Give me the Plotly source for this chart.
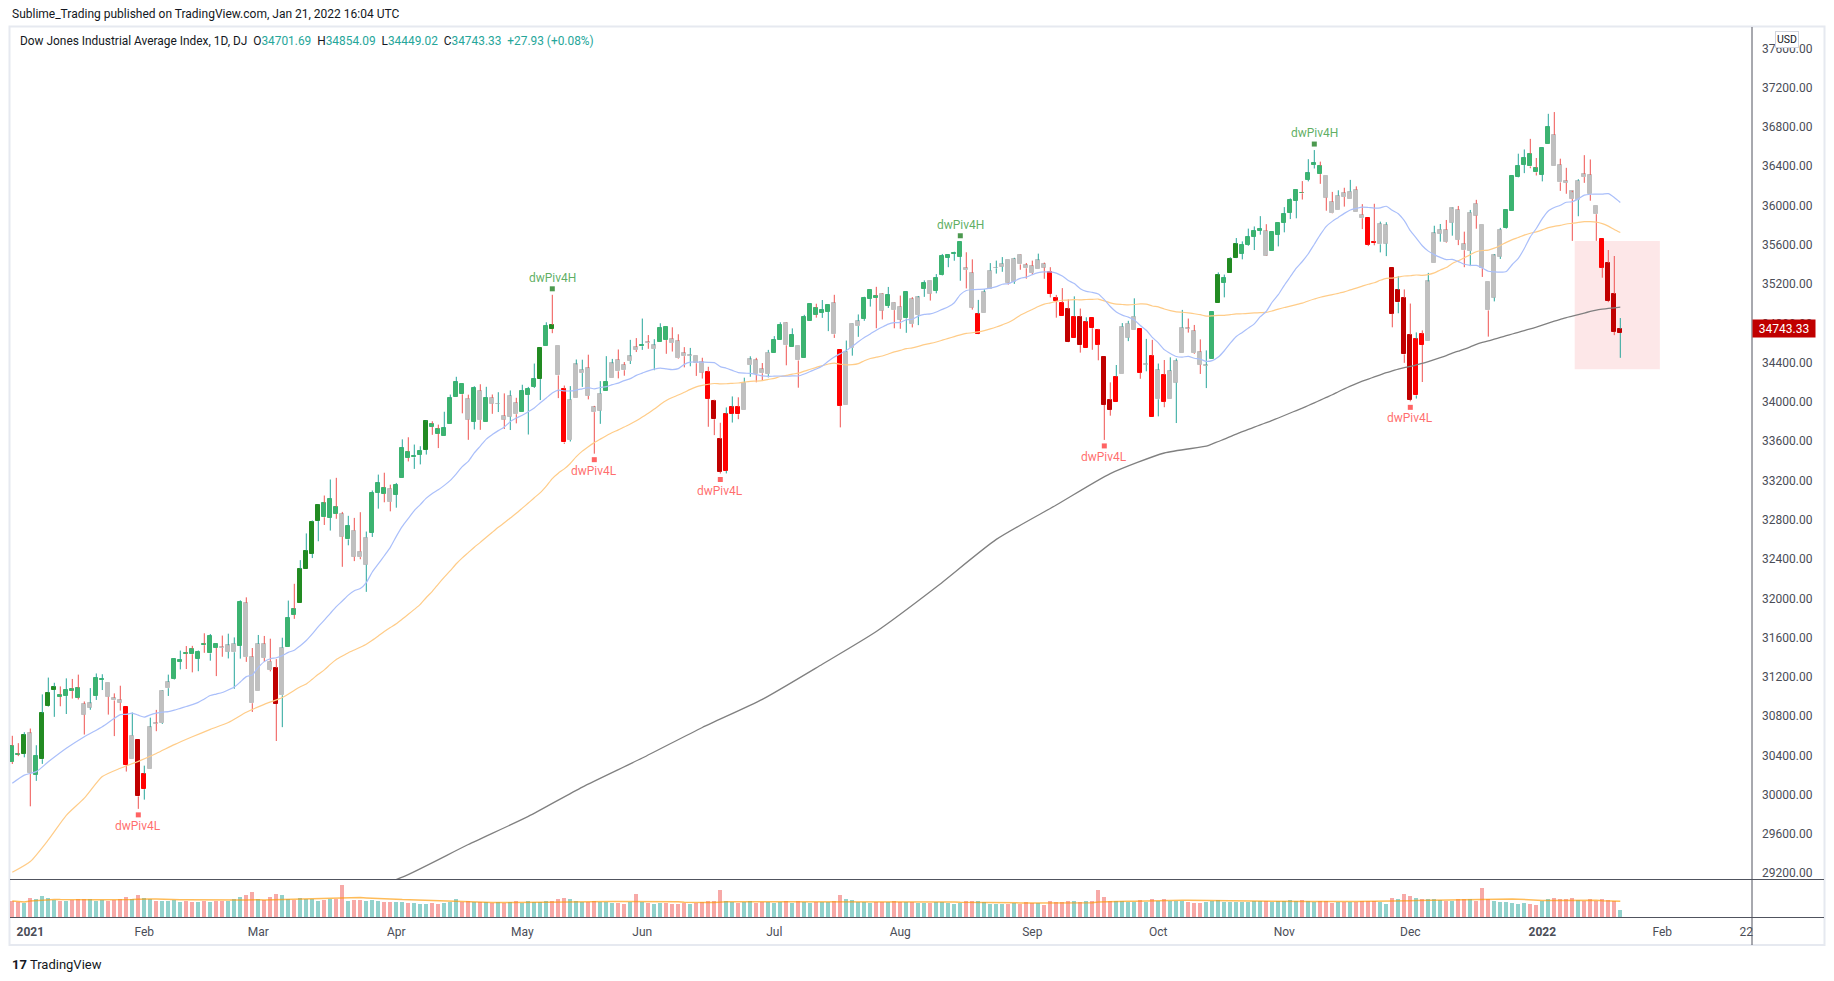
import plotly.graph_objects as go
import pandas as pd

W, H = 1834, 981


def px(x):
    return x / W


def py(y):
    return 1 - y / H


# ---------------- data (bar index 0 = 29 Dec 2020 ... 268 = 21 Jan 2022) ----------------
opens = [30496, 30415, 30417, 30627, 30205, 30362, 30904, 31069, 31016, 31005,
         31080, 31085, 30924, 30887, 31005, 31168, 31137, 30985, 30965, 30894,
         30364, 30558, 30056, 30262, 30731, 30731, 31085, 31176, 31354, 31448,
         31486, 31386, 31533, 31439, 31530, 31503, 31455, 31451, 31514, 31952,
         31402, 31056, 31534, 31355, 31290, 31013, 31508, 31891, 31948, 32302,
         32454, 32790, 32968, 32821, 32930, 32859, 32600, 32689, 32476, 32342,
         32668, 33075, 33127, 33116, 33055, 33222, 33493, 33436, 33460, 33513,
         33775, 33725, 33653, 33775, 34050, 34182, 34033, 33796, 34111, 33796,
         34040, 33979, 33857, 33850, 33989, 33898, 34070, 34152, 34233, 34570,
         34784, 34570, 34132, 33613, 34040, 34294, 34345, 33948, 33911, 34115,
         34243, 34427, 34376, 34417, 34559, 34567, 34610, 34539, 34610, 34763,
         34640, 34620, 34498, 34471, 34468, 34404, 34305, 34010, 33623, 33300,
         33880, 33948, 33917, 34376, 34426, 34334, 34283, 34498, 34630, 34804,
         34559, 34569, 34447, 34828, 34957, 34909, 34916, 35008, 34528, 33969,
         34549, 34773, 34844, 35048, 35079, 35099, 34977, 35008, 34967, 34851,
         35048, 34885, 35150, 35231, 35130, 35293, 35469, 35510, 35476, 35364,
         35313, 34692, 34905, 35150, 35361, 35377, 35446, 35225, 35497, 35395,
         35384, 35351, 35405, 35326, 35058, 35010, 34945, 34654, 34865, 34552,
         34855, 34733, 34458, 34020, 34002, 34288, 34654, 34736, 34743, 34380,
         34467, 34027, 34276, 34027, 34196, 34500, 34753, 34722, 34508, 34369,
         34434, 35010, 35214, 35316, 35469, 35510, 35598, 35683, 35741, 35740,
         35540, 35703, 35823, 35925, 36049, 36128, 36263, 36413, 36403, 36301,
         36036, 35955, 36128, 36070, 36158, 35904, 35873, 35629, 35605, 35612,
         35365, 35015, 35058, 34682, 34067, 34690, 34625, 35418, 35713, 35751,
         35825, 35955, 35608, 35537, 36018, 35800, 35221, 35062, 35479, 35775,
         35948, 36294, 36416, 36525, 36382, 36315, 36630, 36718, 36413, 36250,
         36150, 36057, 36320, 36311, 35995, 35659, 35415, 35099, 34701.69]
highs = [30600, 30525, 30637, 30674, 30504, 31022, 31193, 31140, 31103, 31185,
         31179, 31223, 30950, 31086, 31235, 31227, 31137, 31032, 31110, 30894,
         30837, 30558, 30296, 30785, 30864, 31061, 31223, 31391, 31468, 31514,
         31516, 31469, 31644, 31637, 31530, 31621, 31640, 31602, 31980, 32010,
         31494, 31627, 31617, 31589, 31381, 31599, 31977, 32148, 32389, 32661,
         32793, 32953, 33047, 33210, 33227, 32880, 32840, 32819, 32877, 32680,
         33098, 33260, 33279, 33157, 33175, 33619, 33640, 33566, 33549, 33810,
         33803, 33769, 33900, 34075, 34256, 34182, 34074, 34160, 34180, 34154,
         34076, 34099, 34087, 34117, 34042, 34175, 34153, 34391, 34550, 34811,
         35091, 34570, 34167, 34161, 34432, 34430, 34481, 33960, 34212, 34466,
         34438, 34534, 34406, 34632, 34650, 34849, 34681, 34639, 34801, 34763,
         34760, 34689, 34558, 34550, 34468, 34450, 34358, 34023, 33788, 33944,
         34056, 34047, 34247, 34465, 34449, 34396, 34530, 34670, 34811, 34808,
         34749, 34569, 34887, 35006, 35000, 35038, 34984, 35091, 34528, 34625,
         34800, 34891, 35071, 35144, 35172, 35106, 35171, 35011, 35083, 35130,
         35067, 35079, 35238, 35231, 35302, 35507, 35504, 35530, 35631, 35524,
         35452, 35039, 35148, 35414, 35439, 35475, 35446, 35468, 35500, 35415,
         35439, 35510, 35419, 35372, 35090, 35159, 35045, 35075, 34951, 34862,
         34855, 34744, 34458, 34199, 34376, 34803, 34826, 35055, 34743, 34642,
         34632, 34391, 34427, 34454, 34442, 34937, 34849, 34784, 34637, 34525,
         34919, 35319, 35297, 35474, 35669, 35635, 35765, 35787, 35892, 35810,
         35734, 35821, 35984, 36073, 36161, 36249, 36472, 36565, 36447, 36301,
         36139, 36155, 36181, 36261, 36195, 36014, 35873, 36018, 35836, 35830,
         35365, 35281, 35146, 35002, 34708, 34729, 35314, 35794, 35812, 35853,
         35978, 35996, 35734, 35955, 36058, 35800, 35221, 35505, 35772, 35958,
         36307, 36528, 36571, 36679, 36484, 36595, 36934, 36952, 36477, 36384,
         36136, 36268, 36513, 36469, 35995, 35659, 35547, 35486, 34854.09]
lows = [30313, 30393, 30381, 29882, 30141, 30314, 30897, 30793, 30901, 30822,
        30979, 30970, 30613, 30865, 30965, 31066, 30816, 30597, 30857, 30236,
        30364, 29856, 29950, 30262, 30647, 30721, 31006, 31171, 31276, 31280,
        31246, 31258, 31445, 31365, 31208, 31405, 31388, 31079, 31386, 31353,
        30843, 31056, 31352, 31256, 30547, 30688, 31507, 31791, 31948, 32302,
        32410, 32581, 32747, 32690, 32810, 32321, 32540, 32379, 32398, 32066,
        32625, 32913, 32978, 32886, 32923, 33222, 33394, 33318, 33364, 33464,
        33665, 33530, 33653, 33775, 34050, 33884, 33614, 33720, 33716, 33796,
        33879, 33897, 33724, 33714, 33782, 33898, 33668, 34142, 34019, 34570,
        34700, 34039, 33572, 33597, 34040, 34153, 34026, 33473, 33777, 34115,
        34243, 34240, 34267, 34386, 34508, 34530, 34541, 34323, 34610, 34490,
        34513, 34441, 34352, 34363, 34265, 34238, 33747, 33662, 33271, 33272,
        33790, 33824, 33917, 34256, 34200, 34218, 34250, 34498, 34630, 34373,
        34559, 34145, 34447, 34828, 34858, 34856, 34721, 34652, 33741, 33969,
        34471, 34663, 34826, 34971, 34750, 34840, 34957, 34750, 34745, 34704,
        34759, 34782, 35070, 35032, 35106, 35288, 35372, 35438, 35234, 35156,
        34940, 34690, 34905, 35150, 35307, 35325, 35195, 35202, 35346, 35255,
        35300, 35351, 35254, 35064, 34858, 34879, 34606, 34654, 34502, 34552,
        34531, 34424, 33613, 33860, 34002, 34288, 34619, 34736, 34236, 34312,
        33844, 33853, 33946, 34027, 33785, 34500, 34706, 34488, 34285, 34141,
        34434, 35010, 35065, 35316, 35464, 35452, 35590, 35547, 35703, 35487,
        35540, 35584, 35727, 35862, 35870, 36061, 36246, 36377, 36221, 35947,
        35918, 35955, 35989, 36070, 35930, 35760, 35587, 35595, 35523, 35485,
        34760, 34903, 34398, 34006, 34034, 34203, 34625, 35418, 35632, 35622,
        35693, 35597, 35372, 35383, 35764, 35273, 34665, 35024, 35456, 35765,
        35948, 36287, 36330, 36380, 36306, 36246, 36630, 36407, 36149, 36120,
        35640, 35891, 36231, 36049, 35640, 35265, 35016, 34680, 34449.02]
closes = [30335, 30409, 30606, 30223, 30392, 30829, 31041, 31098, 30998, 31069,
          31061, 30990, 30814, 30931, 31188, 31176, 30997, 30960, 30937, 30303,
          30603, 29983, 30212, 30688, 30724, 31056, 31148, 31386, 31375, 31438,
          31431, 31458, 31523, 31613, 31494, 31494, 31522, 31537, 31962, 31402,
          30932, 31535, 31392, 31270, 30924, 31496, 31802, 31833, 32297, 32485,
          32779, 32950, 32826, 33015, 32862, 32628, 32732, 32423, 32420, 32619,
          33072, 33171, 33067, 32982, 33153, 33527, 33430, 33446, 33503, 33801,
          33746, 33677, 33730, 34036, 34200, 34078, 33821, 34137, 33815, 34043,
          33982, 33984, 33820, 34060, 33875, 34113, 34133, 34230, 34548, 34778,
          34743, 34270, 33587, 34022, 34382, 34327, 34061, 33896, 34084, 34208,
          34394, 34312, 34323, 34465, 34529, 34575, 34600, 34577, 34756, 34630,
          34600, 34447, 34466, 34480, 34394, 34299, 34033, 33823, 33290, 33876,
          33945, 33874, 34196, 34433, 34283, 34292, 34503, 34633, 34786, 34577,
          34681, 34422, 34870, 34996, 34889, 34933, 34987, 34688, 33962, 34512,
          34798, 34823, 35062, 35144, 35059, 34931, 35085, 34935, 34838, 35117,
          34793, 35065, 35209, 35102, 35265, 35485, 35500, 35516, 35626, 35343,
          34961, 34894, 35120, 35336, 35367, 35406, 35214, 35456, 35400, 35361,
          35313, 35444, 35369, 35100, 35031, 34879, 34608, 34870, 34578, 34814,
          34751, 34584, 33970, 33919, 34258, 34765, 34798, 34870, 34299, 34390,
          33844, 34326, 34003, 34315, 34417, 34755, 34746, 34496, 34378, 34377,
          34913, 35295, 35259, 35458, 35610, 35603, 35677, 35741, 35757, 35491,
          35731, 35820, 35913, 36053, 36158, 36124, 36328, 36432, 36320, 36080,
          35921, 36100, 36087, 36142, 35931, 35871, 35602, 35619, 35814, 35804,
          34899, 35140, 34484, 34022, 34640, 34580, 35227, 35719, 35754, 35630,
          35971, 35650, 35545, 35927, 35898, 35365, 34932, 35493, 35754, 35951,
          36302, 36398, 36488, 36398, 36338, 36585, 36799, 36407, 36236, 36231,
          36068, 36252, 36290, 36113, 35912, 35368, 35029, 34715, 34743.33]
# body colour code per bar (groups of 5 bars): G green, D dark green, S silver, R red, K dark red
body_groups = [
    "GGDSG", "DDDGG", "GGSSG", "GSSSR", "SKRSS", "SSGGG", "GGGGG", "SSSGS", "SSSSK", "SGGDD",
    "DDGGG",                                                             # 0-54
    "SGSSS", "GGGSG", "GGGGD", "GGGGG", "GSGSG", "SSSSS", "GGGDG", "DSRSS", "SSSSG", "SSSSS",
    "GSSGG",                                                             # 55-109
    "SSSSS", "SRKKR", "RRSSS", "SSGGS", "GSGGG", "GGSRS", "SSGGG", "SGSSG", "SSGSG", "GGGGS",
    "SRS",                                                               # 110-162
    "SSSSS", "SSSSS", "RRRKR", "KRRRK", "KRSSS", "RSRSR", "SSSSS", "SSGDG", "DDGGG", "GSGGG",
    "GGGGG", "GS",                                                       # 163-219
    "SSSSS", "SRRSS", "KKKKR", "RSSSS", "SSSSS", "SSSSG", "GGGGG", "GGSSS", "SSSSS", "RKKK",  # 220-268
]
volumes = [330, 300, 290, 400, 380, 440, 400, 350, 330, 330,
           340, 360, 370, 360, 330, 350, 330, 350, 360, 420,
           380, 460, 400, 360, 330, 320, 330, 340, 310, 320,
           300, 300, 330, 310, 330, 320, 330, 380, 420, 460,
           520, 370, 350, 420, 480, 450, 380, 340, 390, 360,
           360, 330, 350, 360, 380, 650, 330, 350, 340, 330,
           350, 320, 310, 300, 310, 300, 290, 280, 270, 260,
           280, 270, 290, 310, 360, 300, 320, 300, 310, 300,
           280, 300, 290, 310, 330, 290, 330, 300, 310, 320,
           320, 380, 400, 360, 330, 300, 310, 330, 300, 310,
           280, 290, 270, 300, 480, 310, 280, 270, 290, 280,
           270, 260, 280, 270, 290, 300, 330, 330, 560, 330,
           300, 290, 300, 320, 290, 310, 300, 290, 300, 320,
           290, 330, 300, 290, 300, 310, 300, 330, 450, 380,
           340, 300, 300, 280, 300, 310, 300, 320, 300, 300,
           300, 290, 280, 290, 300, 300, 280, 270, 290, 330,
           320, 330, 300, 270, 260, 270, 270, 280, 270, 300,
           290, 280, 250, 320, 300, 300, 330, 320, 300, 330,
           320, 560, 420, 330, 330, 330, 300, 300, 350, 310,
           380, 330, 370, 320, 330, 320, 300, 290, 290, 310,
           330, 340, 300, 300, 310, 300, 310, 320, 330, 330,
           300, 330, 320, 340, 320, 340, 330, 310, 330, 320,
           290, 300, 300, 310, 300, 330, 330, 320, 300, 260,
           400, 380, 480, 440, 400, 380, 360, 360, 350, 320,
           330, 360, 380, 370, 330, 600, 380, 330, 310, 300,
           280, 270, 280, 270, 250, 330, 370, 390, 380, 360,
           400, 350, 330, 360, 330, 380, 350, 330, 150]

ma20_read_idx = [0, 2, 4, 6, 9, 12, 15, 18]
ma20_read_val = [30117, 30200, 30235, 30335, 30473, 30591, 30693, 30815]
ma50_read_idx = [0, 3, 6, 9, 12, 15, 18, 21, 24, 27, 30, 33, 36, 39, 42, 45, 48]
ma50_read_val = [29210, 29320, 29540, 29790, 29965, 30185, 30270, 30340, 30420,
                 30510, 30590, 30665, 30735, 30840, 30920, 30990, 31100]
ma200_read_idx = [55, 65, 76, 86, 95, 105, 115, 125, 135, 144, 154, 164, 174, 183, 192]
ma200_read_val = [28950, 29160, 29493, 29779, 30078, 30374, 30685, 30971, 31329,
                  31662, 32115, 32600, 32950, 33270, 33480]

pivot_low_idx = [21, 97, 118, 182, 233]
pivot_high_idx = [90, 158, 217]

tick_idx = [3, 22, 41, 64, 85, 105, 127, 148, 170, 191, 212, 233, 255, 275, 289]
tick_text = ["<b>2021</b>", "Feb", "Mar", "Apr", "May", "Jun", "Jul", "Aug", "Sep",
             "Oct", "Nov", "Dec", "<b>2022</b>", "Feb", "22"]
price_ticks = list(range(29200, 37601, 400))
last_price = 34743.33
box_idx = [260.4, 274.6]
box_price = [34332, 35638]

# ---------------- styling ----------------
palette = {"G": "#3cb371", "D": "#228b22", "S": "#c0c0c0", "R": "#ff0000", "K": "#c00000"}
UP_WICK, DN_WICK = "#26a69a", "#ef5350"
FONT = "Roboto, 'Open Sans', sans-serif"
TXT = "#131722"

n = len(closes)
idx = list(range(n))
up = [c >= o for o, c in zip(opens, closes)]
body_codes = "".join(body_groups)
body_col = [palette[ch] for ch in body_codes[:n]]

fig = go.Figure()

# wicks (split so they don't cross bodies)
for flag, col in ((True, UP_WICK), (False, DN_WICK)):
    xs, ys = [], []
    for i in idx:
        if up[i] != flag:
            continue
        top = max(opens[i], closes[i])
        bot = min(opens[i], closes[i])
        xs += [i, i, None, i, i, None]
        ys += [highs[i], top, None, bot, lows[i], None]
    fig.add_trace(go.Scatter(x=xs, y=ys, mode="lines", line=dict(color=col, width=1),
                             hoverinfo="skip", showlegend=False, yaxis="y"))

# bodies
fig.add_trace(go.Bar(x=idx, y=[abs(c - o) for o, c in zip(opens, closes)],
                     base=[min(o, c) for o, c in zip(opens, closes)],
                     width=0.66, marker=dict(color=body_col, line=dict(color=body_col, width=1)),
                     showlegend=False, hoverinfo="skip", yaxis="y"))

# moving averages
cs = pd.Series(closes, dtype=float)
ma20 = cs.rolling(20).mean()
ma50 = cs.rolling(50).mean()
ma200 = cs.rolling(200).mean()


def ma_series(read_idx, read_val, comp, start):
    xs = list(read_idx) + list(range(start, n))
    ys = list(read_val) + [comp[i] for i in range(start, n)]
    return xs, ys


for (ri, rv, comp, st, col, w) in (
        (ma200_read_idx, ma200_read_val, ma200, 199, "#808080", 1.3),
        (ma50_read_idx, ma50_read_val, ma50, 49, "#ffcc88", 1.2),
        (ma20_read_idx, ma20_read_val, ma20, 19, "#aabffa", 1.2)):
    xs, ys = ma_series(ri, rv, comp, st)
    fig.add_trace(go.Scatter(x=xs, y=ys, mode="lines", line=dict(color=col, width=w, shape="spline", smoothing=0.6),
                             hoverinfo="skip", showlegend=False, yaxis="y"))

# volume
vol_col = ["rgba(38,166,154,0.5)" if u else "rgba(239,83,80,0.5)" for u in up]
fig.add_trace(go.Bar(x=idx, y=volumes, width=0.7, marker=dict(color=vol_col, line=dict(width=0)),
                     showlegend=False, hoverinfo="skip", yaxis="y2"))
vma = pd.Series(volumes, dtype=float).rolling(20, min_periods=1).mean()
fig.add_trace(go.Scatter(x=idx, y=vma, mode="lines", line=dict(color="rgba(255,152,0,0.65)", width=1.5),
                         hoverinfo="skip", showlegend=False, yaxis="y2"))

shapes = []
# pink box
shapes.append(dict(type="rect", xref="x", yref="y", x0=box_idx[0], x1=box_idx[1],
                   y0=box_price[0], y1=box_price[1], fillcolor="rgba(242,54,69,0.12)",
                   line=dict(width=0), layer="below"))
# pivot markers + labels
annotations = []
for i in pivot_low_idx:
    shapes.append(dict(type="rect", xref="x", yref="y", xsizemode="pixel", ysizemode="pixel",
                       xanchor=i, yanchor=lows[i], x0=-2.5, x1=2.5, y0=-8.5, y1=-3.5,
                       fillcolor="rgba(255,82,82,0.9)", line=dict(width=0)))
    annotations.append(dict(x=i, y=lows[i], xref="x", yref="y", text="dwPiv4L", showarrow=False,
                            yshift=-17, font=dict(family=FONT, size=12, color="rgba(255,82,82,0.85)")))
for i in pivot_high_idx:
    shapes.append(dict(type="rect", xref="x", yref="y", xsizemode="pixel", ysizemode="pixel",
                       xanchor=i, yanchor=highs[i], x0=-2.5, x1=2.5, y0=3.5, y1=8.5,
                       fillcolor="rgba(56,142,60,0.9)", line=dict(width=0)))
    annotations.append(dict(x=i, y=highs[i], xref="x", yref="y", text="dwPiv4H", showarrow=False,
                            yshift=17, font=dict(family=FONT, size=12, color="rgba(67,160,71,0.85)")))

# frame
shapes.append(dict(type="rect", xref="paper", yref="paper", x0=px(9.5), x1=px(1824.5), y0=py(945),
                   y1=py(26.5), line=dict(color="#e6e9f0", width=2), layer="below"))
shapes.append(dict(type="line", xref="paper", yref="paper", x0=px(1752), x1=px(1752), y0=py(945),
                   y1=py(27), line=dict(color="#50535e", width=1)))
for yy in (879.5, 917.5):
    shapes.append(dict(type="line", xref="paper", yref="paper", x0=px(10), x1=px(1824), y0=py(yy),
                       y1=py(yy), line=dict(color="#50535e", width=1)))

# texts
val = "color:#26a69a"
legend_txt = ("Dow Jones Industrial Average Index, 1D, DJ&nbsp;&nbsp;"
              f"O<span style='{val}'>34701.69</span>&nbsp;&nbsp;"
              f"H<span style='{val}'>34854.09</span>&nbsp;&nbsp;"
              f"L<span style='{val}'>34449.02</span>&nbsp;&nbsp;"
              f"C<span style='{val}'>34743.33</span>&nbsp;&nbsp;"
              f"<span style='{val}'>+27.93 (+0.08%)</span>")
annotations += [
    dict(x=px(10), y=py(14), xref="paper", yref="paper", xanchor="left", yanchor="middle",
         text="Sublime_Trading published on TradingView.com, Jan 21, 2022 16:04 UTC",
         showarrow=False, font=dict(family=FONT, size=12, color=TXT)),
    dict(x=px(18), y=py(41), xref="paper", yref="paper", xanchor="left", yanchor="middle",
         text=legend_txt, showarrow=False, font=dict(family=FONT, size=11.9, color=TXT)),
    dict(x=px(1787), y=py(39), xref="paper", yref="paper", xanchor="center", yanchor="middle",
         text="USD", showarrow=False, font=dict(family=FONT, size=10.5, color=TXT),
         bgcolor="white", bordercolor="#d1d4dc", borderwidth=1, borderpad=1),
    dict(x=px(1752), y=last_price, xref="paper", yref="y", xanchor="left", yanchor="middle",
         text=f"{last_price:.2f}", showarrow=False, font=dict(family=FONT, size=12, color="white"),
         bgcolor="#c00000", width=60, height=15, align="center"),
    dict(x=px(10), y=py(964), xref="paper", yref="paper", xanchor="left", yanchor="middle",
         text="<b>17</b> TradingView", showarrow=False, font=dict(family=FONT, size=13, color=TXT)),
]

fig.update_layout(
    width=W, height=H, margin=dict(l=0, r=0, t=0, b=0),
    paper_bgcolor="white", plot_bgcolor="white", barmode="overlay", bargap=0,
    showlegend=False, font=dict(family=FONT, color=TXT),
    xaxis=dict(domain=[px(10), px(1752)], range=[-0.383, 289.95], anchor="y2",
               tickmode="array", tickvals=tick_idx, ticktext=tick_text, showgrid=False,
               zeroline=False, showline=False, ticks="", ticklabelstandoff=6,
               tickfont=dict(family=FONT, size=12, color="#4a4d57")),
    yaxis=dict(domain=[py(879), py(27)], range=[29141.8, 37818.1], side="right", anchor="x",
               tickmode="array", tickvals=price_ticks, ticktext=[f"{v:.2f}" for v in price_ticks],
               showgrid=False, zeroline=False, showline=False, ticks="", ticklabelstandoff=9,
               tickfont=dict(family=FONT, size=12, color="#4a4d57")),
    yaxis2=dict(domain=[py(917), py(880)], range=[0, 760], anchor="x", showgrid=False,
                zeroline=False, showticklabels=False, showline=False),
    shapes=shapes, annotations=annotations,
)

fig.write_html("out.html")
